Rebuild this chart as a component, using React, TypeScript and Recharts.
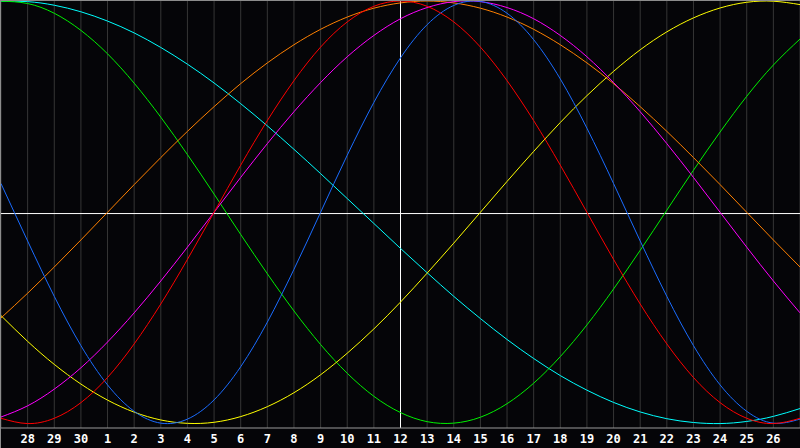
import { LineChart, Line, XAxis, YAxis, CartesianGrid, ReferenceLine } from "recharts";

// day index along the x axis (0..30), one grid line per day
const days = [0, 1, 2, 3, 4, 5, 6, 7, 8, 9, 10, 11, 12, 13, 14, 15, 16, 17, 18, 19, 20, 21, 22, 23, 24, 25, 26, 27, 28, 29, 30];
const tickDays = days.slice(1, 30);
const dayLabels = ["28", "29", "30", "1", "2", "3", "4", "5", "6", "7", "8", "9", "10", "11", "12", "13", "14", "15", "16", "17", "18", "19", "20", "21", "22", "23", "24", "25", "26"];
const today = 15;
const baseline = -0.006;

const red = [-0.975, -1, -0.975, -0.901, -0.782, -0.623, -0.434, -0.223, 0, 0.223, 0.434, 0.623, 0.782, 0.901, 0.975, 1, 0.975, 0.901, 0.782, 0.623, 0.434, 0.223, 0, -0.223, -0.434, -0.623, -0.782, -0.901, -0.975, -1, -0.975];
const blue = [0.136, -0.136, -0.398, -0.631, -0.817, -0.942, -0.998, -0.979, -0.888, -0.731, -0.52, -0.27, 0, 0.27, 0.52, 0.731, 0.888, 0.979, 0.998, 0.942, 0.817, 0.631, 0.398, 0.136, -0.136, -0.398, -0.631, -0.817, -0.942, -0.998, -0.979];
const green = [0.999, 0.988, 0.942, 0.861, 0.75, 0.611, 0.45, 0.273, 0.086, -0.105, -0.291, -0.467, -0.626, -0.762, -0.871, -0.948, -0.991, -0.998, -0.97, -0.906, -0.809, -0.683, -0.533, -0.363, -0.18, 0.01, 0.199, 0.38, 0.549, 0.697, 0.82];
const yellow = [-0.489, -0.611, -0.72, -0.813, -0.889, -0.946, -0.983, -0.999, -0.994, -0.967, -0.92, -0.854, -0.769, -0.667, -0.552, -0.425, -0.288, -0.146, 0, 0.146, 0.288, 0.425, 0.552, 0.667, 0.769, 0.854, 0.92, 0.967, 0.994, 0.999, 0.983];
const orange = [-0.5, -0.383, -0.259, -0.131, 0, 0.131, 0.259, 0.383, 0.5, 0.609, 0.707, 0.793, 0.866, 0.924, 0.966, 0.991, 1, 0.991, 0.966, 0.924, 0.866, 0.793, 0.707, 0.609, 0.5, 0.383, 0.259, 0.131, 0, -0.131, -0.259];
const magenta = [-0.969, -0.916, -0.837, -0.736, -0.614, -0.476, -0.325, -0.165, 0, 0.165, 0.325, 0.476, 0.614, 0.736, 0.837, 0.916, 0.969, 0.997, 0.997, 0.969, 0.916, 0.837, 0.736, 0.614, 0.476, 0.325, 0.165, 0, -0.165, -0.325, -0.476];
const cyan = [0.999, 0.997, 0.98, 0.949, 0.905, 0.849, 0.78, 0.701, 0.612, 0.514, 0.409, 0.298, 0.183, 0.065, -0.053, -0.171, -0.286, -0.398, -0.503, -0.602, -0.692, -0.773, -0.842, -0.9, -0.945, -0.977, -0.995, -1, -0.99, -0.966, -0.929];

const SERIES = [
  { key: "cyan", color: "#00ffff" },
  { key: "green", color: "#00f000" },
  { key: "yellow", color: "#ffff00" },
  { key: "orange", color: "#ff8000" },
  { key: "magenta", color: "#ff00ff" },
  { key: "blue", color: "#1a6cff" },
  { key: "red", color: "#ff0000" },
];

const data = days.map((d, i) => ({
  day: d,
  red: red[i],
  blue: blue[i],
  green: green[i],
  yellow: yellow[i],
  orange: orange[i],
  magenta: magenta[i],
  cyan: cyan[i],
}));

export default function App() {
  return (
    <div
      style={{
        width: 800,
        height: 448,
        background: "#050508",
        borderTop: "1px solid #8c8c8c",
        borderLeft: "1px solid #8c8c8c",
        boxSizing: "border-box",
      }}
    >
      <style>{`body{margin:0}`}</style>
      <LineChart width={799} height={447} data={data} margin={{ top: 0, right: 0, bottom: 0, left: 0 }}>
        <CartesianGrid horizontal={false} stroke="#363636" />
        <XAxis
          dataKey="day"
          type="number"
          domain={[0, 30]}
          ticks={tickDays}
          tickFormatter={(v: number) => dayLabels[v - 1]}
          height={20}
          tickLine={false}
          tickMargin={0}
          axisLine={{ stroke: "#9a9a9a" }}
          tick={{ fill: "#ffffff", fontSize: 12, fontWeight: "bold", fontFamily: "DejaVu Sans Mono" }}
        />
        <YAxis hide domain={[-1.021, 1]} />
        <ReferenceLine x={today} stroke="#ffffff" />
        <ReferenceLine y={baseline} stroke="#ffffff" />
        {SERIES.map((s) => (
          <Line
            key={s.key}
            dataKey={s.key}
            type="natural"
            stroke={s.color}
            strokeWidth={1}
            dot={false}
            isAnimationActive={false}
          />
        ))}
      </LineChart>
    </div>
  );
}
